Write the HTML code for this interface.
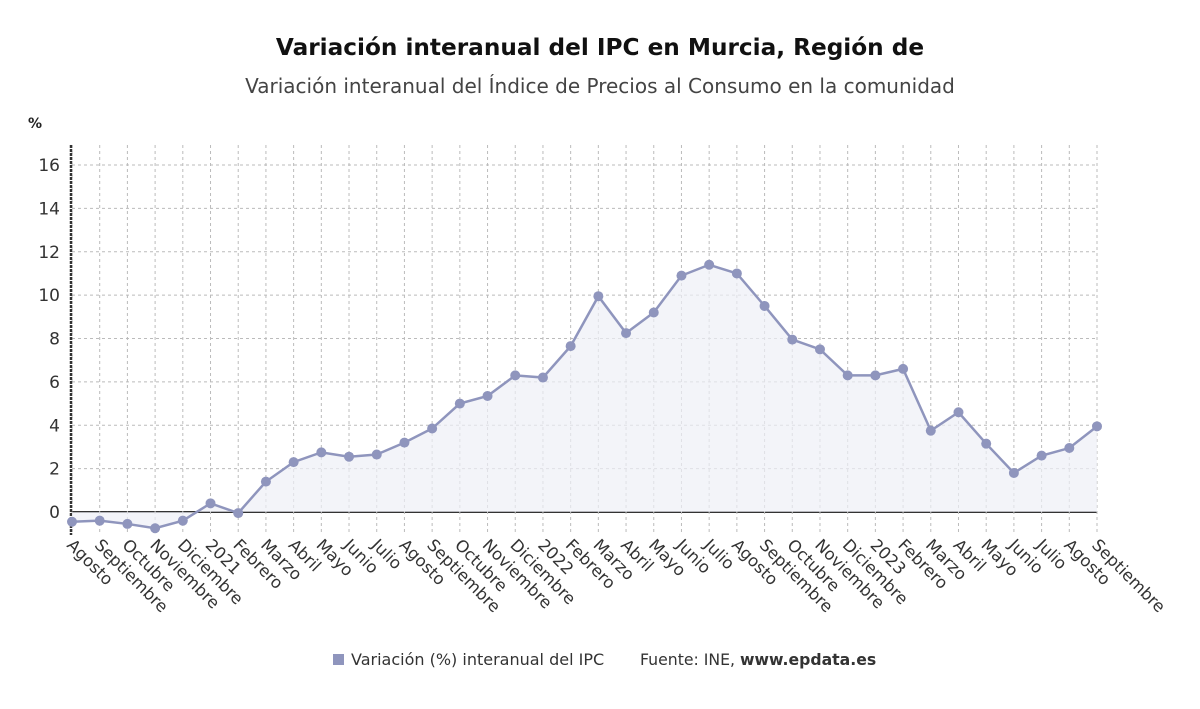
<!DOCTYPE html>
<html><head><meta charset="utf-8"><style>
body{margin:0;background:#fff;font-family:"DejaVu Sans","Liberation Sans",sans-serif}
</style></head><body>
<svg id="c" width="1200" height="705" xmlns="http://www.w3.org/2000/svg" font-family="DejaVu Sans, Liberation Sans, sans-serif">
<rect width="1200" height="705" fill="#fff"/>
<text x="600" y="55" text-anchor="middle" font-size="23.2" font-weight="bold" fill="#111">Variación interanual del IPC en Murcia, Región de</text>
<text x="600" y="93" text-anchor="middle" font-size="20" fill="#444">Variación interanual del Índice de Precios al Consumo en la comunidad</text>
<text x="28" y="128" font-size="14" font-weight="bold" fill="#222">%</text>
<g id="grid"></g><g id="marks"></g><g id="labels"></g>
<rect x="333" y="654" width="11" height="11" fill="#8f95bd"/>
<text x="351" y="665" font-size="16" fill="#333">Variación (%) interanual del IPC</text>
<text x="640" y="665" font-size="15.7" fill="#333">Fuente: INE, <tspan font-weight="bold">www.epdata.es</tspan></text>
</svg>
<script>
const categories=["Agosto","Septiembre","Octubre","Noviembre","Diciembre","2021","Febrero","Marzo","Abril","Mayo","Junio","Julio","Agosto","Septiembre","Octubre","Noviembre","Diciembre","2022","Febrero","Marzo","Abril","Mayo","Junio","Julio","Agosto","Septiembre","Octubre","Noviembre","Diciembre","2023","Febrero","Marzo","Abril","Mayo","Junio","Julio","Agosto","Septiembre"];
const values=[-0.45,-0.4,-0.55,-0.75,-0.4,0.4,-0.05,1.4,2.3,2.75,2.55,2.65,3.2,3.85,5.0,5.35,6.3,6.2,7.65,9.95,8.25,9.2,10.9,11.4,11.0,9.5,7.95,7.5,6.3,6.3,6.6,3.75,4.6,3.15,1.8,2.6,2.95,3.95];
const yTicks=[0,2,4,6,8,10,12,14,16];
const NS="http://www.w3.org/2000/svg";
const x0=72,x1=1097,yTop=145,yBot=535;
const xs=i=>x0+(x1-x0)*i/(categories.length-1);
const ys=v=>512-v*(512-165)/16;
function mk(t,a,p){const e=document.createElementNS(NS,t);for(const k in a)e.setAttribute(k,a[k]);p.appendChild(e);return e;}
const g=document.getElementById('grid'),m=document.getElementById('marks'),l=document.getElementById('labels');
yTicks.forEach(v=>{
 const ln=mk('line',{x1:x0,x2:x1,y1:ys(v),y2:ys(v),stroke:v===0?'#333':'#bbb','stroke-width':v===0?2:1,'stroke-dasharray':v===0?'':'3,3'},g);
 
 
 const t=mk('text',{x:60,y:ys(v)+6,'text-anchor':'end','font-size':17,fill:'#333'},l);
 t.textContent=v;
 
 
});
categories.forEach((c,i)=>{
 const ln=mk('line',{x1:xs(i),x2:xs(i),y1:yTop,y2:yBot,stroke:'#bbb','stroke-dasharray':'3,3'},g);
 
 
 const t=mk('text',{x:xs(i)-6,y:546,'font-size':16.5,fill:'#333',transform:`rotate(45 ${xs(i)-6} 546)`},l);
 t.textContent=c;
 
 
});
const ax=mk('line',{x1:x0-1,x2:x0-1,y1:yTop,y2:yBot,stroke:'#333','stroke-width':2.5,'stroke-dasharray':'3,1'},g);


let d=values.map((v,i)=>(i?'L':'M')+xs(i)+','+ys(v)).join('');
const area=mk('path',{d:d+`L${xs(values.length-1)},${ys(0)}L${xs(0)},${ys(0)}Z`,fill:'#eef0f7',opacity:0.7},m);


const line=mk('path',{d:d,fill:'none',stroke:'#8f95bd','stroke-width':2.5},m);


values.forEach((v,i)=>{
 const p=mk('circle',{cx:xs(i),cy:ys(v),r:5,fill:'#8f95bd'},m);
 
 
});
</script>
</body></html>
